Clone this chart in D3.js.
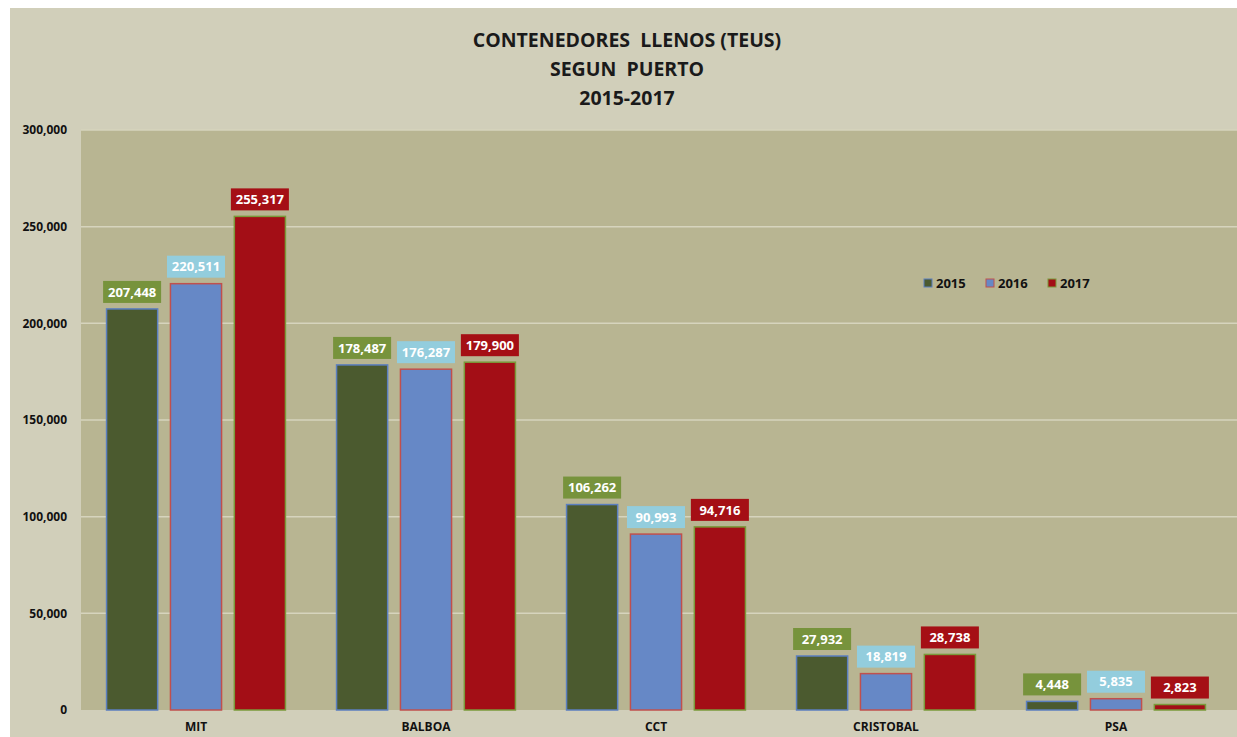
<!DOCTYPE html>
<html>
<head>
<meta charset="utf-8">
<script src="https://cdn.jsdelivr.net/npm/d3@7"></script>
<style>
  body { margin: 0; background: #ffffff; }
  text { font-family: "Open Sans", Lato, sans-serif; }
</style>
</head>
<body>
<script>

let puertos = ["MIT", "BALBOA", "CCT", "CRISTOBAL", "PSA"]
let anios = ["2015", "2016", "2017"]
let v2015 = [207448, 178487, 106262, 27932, 4448]
let v2016 = [220511, 176287, 90993, 18819, 5835]
let v2017 = [255317, 179900, 94716, 28738, 2823]
let yTicks = [0, 50000, 100000, 150000, 200000, 250000, 300000]
let titulo = ["CONTENEDORES  LLENOS (TEUS)", "SEGUN  PUERTO", "2015-2017"]

let W = 1237, H = 737
let mLeft = 81, mRight = 1231, mTop = 130, mBottom = 710

let fills = {"2015": "#4b5a2f", "2016": "#6688c6", "2017": "#a30e16"}
let strokes = {"2015": "#5b7fc0", "2016": "#c0504d", "2017": "#7a9a3a"}
let boxFill = {"2015": "#77933c", "2016": "#93cddd", "2017": "#a50f15"}

let series = {"2015": v2015, "2016": v2016, "2017": v2017}

let svg = d3.select("body").append("svg")
            .attr("width", W)
            .attr("height", H)

svg.append("rect")
    .attr("x", 10).attr("y", 8)
    .attr("width", W - 10).attr("height", H - 8)
    .attr("fill", "#d1cfba")

svg.append("rect")
    .attr("x", mLeft).attr("y", mTop)
    .attr("width", W - mLeft).attr("height", mBottom - mTop)
    .attr("fill", "#b8b592")

let x0 = d3.scaleBand().domain(puertos).range([mLeft, mRight])
let x1 = d3.scaleBand().domain(anios).range([0, x0.bandwidth()])
            .paddingInner(0.2).paddingOuter(0.4)
let y = d3.scaleLinear().domain([0, 300000]).range([mBottom, mTop])

// gridlines
svg.append("g")
    .selectAll("line")
    .data(yTicks.filter(d => d > 0))
    .enter()
    .append("line")
    .attr("x1", mLeft).attr("x2", W)
    .attr("y1", d => y(d)).attr("y2", d => y(d))
    .attr("stroke", "#d6d4bd")
    .attr("stroke-width", 1.5)

// y axis
let yAxis = svg.append("g")
    .attr("transform", "translate(" + (mLeft - 11) + ",0)")
    .call(d3.axisLeft(y).tickValues(yTicks).tickFormat(d3.format(",")).tickSize(0))
yAxis.select(".domain").remove()
yAxis.selectAll("text")
    .attr("font-size", 12)
    .attr("font-weight", "bold")
    .attr("fill", "#111")
    .attr("dy", "0.32em")

// x axis
let xAxis = svg.append("g")
    .attr("transform", "translate(0," + mBottom + ")")
    .call(d3.axisBottom(x0).tickSize(0))
xAxis.select(".domain").remove()
xAxis.selectAll("text")
    .attr("font-size", 12)
    .attr("font-weight", "bold")
    .attr("fill", "#111")
    .attr("dy", "1.5em")

// bars
let rows = []
puertos.forEach((p, i) => {
    anios.forEach(a => rows.push({puerto: p, anio: a, valor: series[a][i]}))
})

let grupos = svg.append("g")
    .selectAll("g")
    .data(rows)
    .enter()
    .append("g")

grupos.append("rect")
    .attr("x", d => x0(d.puerto) + x1(d.anio))
    .attr("y", d => y(d.valor))
    .attr("width", x1.bandwidth())
    .attr("height", d => y(0) - y(d.valor))
    .attr("fill", d => fills[d.anio])
    .attr("stroke", d => strokes[d.anio])
    .attr("stroke-width", 1.5)

let fmt = d3.format(",")
let bw = 58, bh = 22

grupos.append("rect")
    .attr("x", d => x0(d.puerto) + x1(d.anio) + x1.bandwidth() / 2 - bw / 2)
    .attr("y", d => y(d.valor) - 6 - bh)
    .attr("width", bw)
    .attr("height", bh)
    .attr("fill", d => boxFill[d.anio])

grupos.append("text")
    .attr("x", d => x0(d.puerto) + x1(d.anio) + x1.bandwidth() / 2)
    .attr("y", d => y(d.valor) - 6 - bh / 2)
    .attr("dy", "0.36em")
    .attr("text-anchor", "middle")
    .attr("font-size", 13)
    .attr("font-weight", "bold")
    .attr("fill", "#ffffff")
    .text(d => fmt(d.valor))

// title
svg.append("g")
    .selectAll("text")
    .data(titulo)
    .enter()
    .append("text")
    .attr("x", 627)
    .attr("y", (d, i) => 47 + i * 29)
    .attr("text-anchor", "middle")
    .attr("font-size", 19.5)
    .attr("font-weight", "bold")
    .attr("fill", "#1a1a1a")
    .style("white-space", "pre")
    .text(d => d)

// legend
let leg = svg.append("g")
    .selectAll("g")
    .data(anios)
    .enter()
    .append("g")
    .attr("transform", (d, i) => "translate(" + (924 + i * 62) + ",283)")

leg.append("rect")
    .attr("x", 0).attr("y", -4)
    .attr("width", 8).attr("height", 8)
    .attr("fill", d => fills[d])
    .attr("stroke", d => strokes[d])
    .attr("stroke-width", 1)

leg.append("text")
    .attr("x", 12)
    .attr("dy", "0.35em")
    .attr("font-size", 13)
    .attr("font-weight", "bold")
    .attr("fill", "#111")
    .text(d => d)

</script>
</body>
</html>
